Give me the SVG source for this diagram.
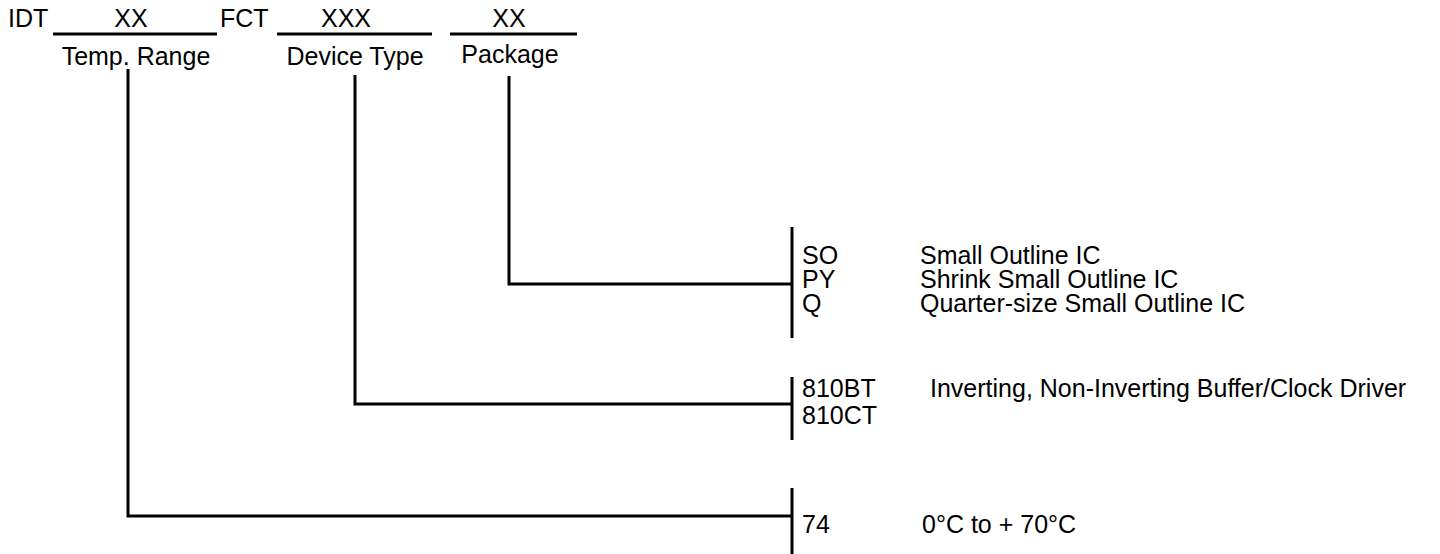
<svg xmlns="http://www.w3.org/2000/svg" width="1440" height="554" viewBox="0 0 1440 554">
<style>
text{font-family:"Liberation Sans",Arial,sans-serif;font-size:25px;fill:#000}
.m{text-anchor:middle}
line,polyline{stroke:#000;stroke-width:3;fill:none}
</style>
<rect width="1440" height="554" fill="#fff"/>
<g id="header">
<text x="8" y="27">IDT</text>
<line x1="53" y1="34" x2="217" y2="34"/>
<text x="131" y="27" class="m">XX</text>
<text x="220" y="27">FCT</text>
<line x1="277" y1="34" x2="432" y2="34"/>
<text x="346" y="27" class="m">XXX</text>
<line x1="450" y1="34" x2="577" y2="34"/>
<text x="509" y="27" class="m">XX</text>
</g>
<g id="temp-range"><text x="136" y="65" class="m">Temp. Range</text></g>
<g id="device-type"><text x="355" y="65" class="m">Device Type</text></g>
<g id="package"><text x="510" y="63" class="m">Package</text></g>
<g id="connectors">
<polyline points="128,69 128,516 792,516"/>
<polyline points="355,75 355,404 792,404"/>
<polyline points="509,76 509,284 792,284"/>
</g>
<g id="package-options">
<line x1="792" y1="227" x2="792" y2="338"/>
<text x="802" y="264">SO</text>
<text x="802" y="288">PY</text>
<text x="802" y="312">Q</text>
<text x="920" y="264">Small Outline IC</text>
<text x="920" y="288">Shrink Small Outline IC</text>
<text x="920" y="312">Quarter-size Small Outline IC</text>
</g>
<g id="device-options">
<line x1="792" y1="377" x2="792" y2="440"/>
<text x="802" y="397">810BT</text>
<text x="802" y="424">810CT</text>
<text x="930" y="397">Inverting, Non-Inverting Buffer/Clock Driver</text>
</g>
<g id="temp-options">
<line x1="792" y1="488" x2="792" y2="554"/>
<text x="802" y="533">74</text>
<text x="922" y="533">0°C to + 70°C</text>
</g>
</svg>
